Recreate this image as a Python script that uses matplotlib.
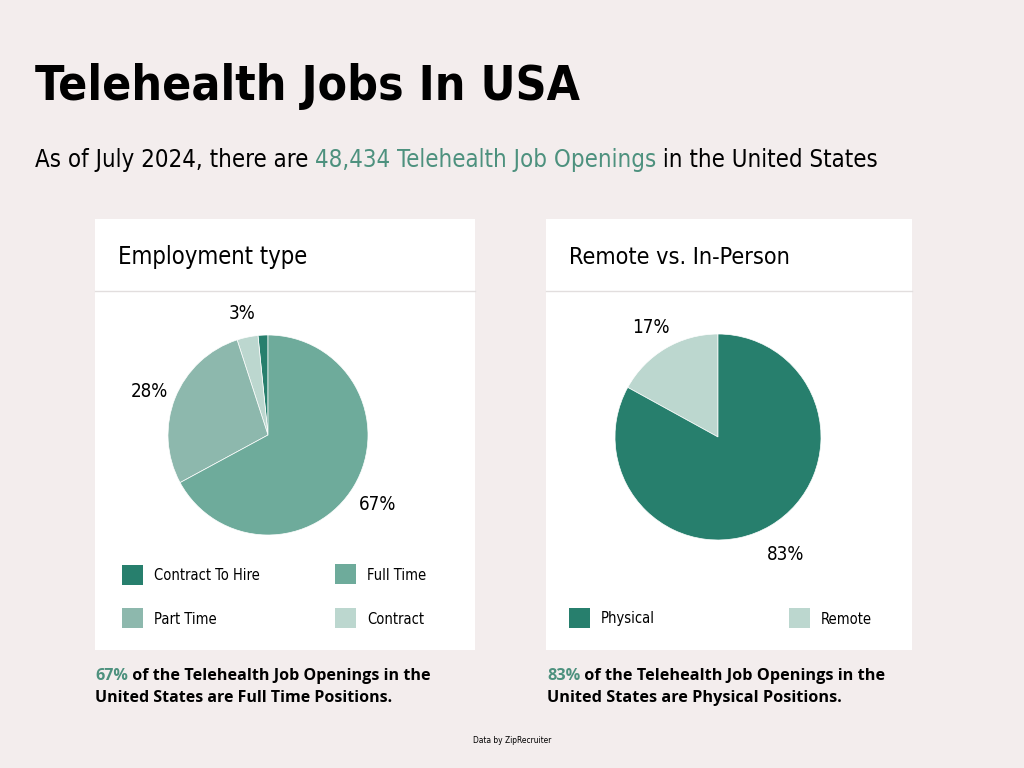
import matplotlib
matplotlib.use("Agg")
import matplotlib.pyplot as plt
from matplotlib import font_manager
from matplotlib.patches import Rectangle

# data
emp_labels = ["Contract To Hire", "Contract", "Part Time", "Full Time"]
emp_values = [1.6, 3.4, 27.9, 67.1]
loc_labels = ["Remote", "Physical"]
loc_values = [17, 83]

BG = "#f3eded"
DARK = "#277f6d"
FULL = "#6eab9b"
PART = "#8db8ad"
LIGHT = "#bcd7cf"
ACCENT = "#4d917e"
emp_colors = [DARK, LIGHT, PART, FULL]
loc_colors = [LIGHT, DARK]

names = {f.name for f in font_manager.fontManager.ttflist}
if "Liberation Sans Narrow" in names:
    COND = dict(family="Liberation Sans Narrow")
else:
    COND = dict(family="DejaVu Sans", stretch="condensed")
BODY = "Open Sans" if "Open Sans" in names else "DejaVu Sans"

fig = plt.figure(figsize=(10.24, 7.68), dpi=100, facecolor=BG)
bg = fig.add_axes([0, 0, 1, 1])
bg.set_xlim(0, 1024)
bg.set_ylim(768, 0)
bg.axis("off")
renderer = fig.canvas.get_renderer()


def fit(t, width):
    w = t.get_window_extent(renderer).width
    t.set_fontsize(t.get_fontsize() * width / w)


def runs(x, y, parts, size, width=None, **kw):
    """draw a line of text made of differently coloured pieces"""
    def place(sz):
        out, cx = [], x
        for s, c in parts:
            t = bg.text(cx, y, s, color=c, fontsize=sz, va="baseline", **kw)
            cx = t.get_window_extent(renderer).x1
            out.append(t)
        return out
    ts = place(size)
    if width:
        total = ts[-1].get_window_extent(renderer).x1 - x
        for t in ts:
            t.remove()
        ts = place(size * width / total)
    return ts


# header
t = bg.text(35, 100, "Telehealth Jobs In USA", fontsize=50, fontweight="bold",
            va="baseline", color="black", **COND)
fit(t, 545)
runs(35, 167, [("As of July 2024, there are ", "black"),
               ("48,434 Telehealth Job Openings", ACCENT),
               (" in the United States", "black")], 22, width=840, **COND)

# cards
cards = [(95, 475, "Employment type"), (546, 912, "Remote vs. In-Person")]
title_w = [190, 221]
for (x0, x1, title), tw in zip(cards, title_w):
    bg.add_patch(Rectangle((x0, 219), x1 - x0, 431, facecolor="white", edgecolor="none"))
    bg.plot([x0, x1], [290.5, 290.5], color="#e2dede", lw=1)
    t = bg.text(x0 + 23, 264, title, fontsize=22, va="baseline", color="black", **COND)
    fit(t, tw)


def pie_axes(cx, cy, r, L=1.45):
    half = r * L
    ax = fig.add_axes([(cx - half) / 1024, (768 - cy - half) / 768,
                       2 * half / 1024, 2 * half / 768])
    ax.axis("off")
    return ax, L


def fix_limits(ax, L):
    ax.set_xlim(-L, L)
    ax.set_ylim(-L, L)
    ax.set_aspect("equal")


ax1, L1 = pie_axes(268, 435, 100)
_, _, pct1 = ax1.pie(emp_values, colors=emp_colors, startangle=90, counterclock=True,
                     autopct=lambda p: f"{p:.0f}%" if p > 2.5 else "",
                     pctdistance=1.28, radius=1,
                     wedgeprops=dict(linewidth=0.5, edgecolor="white"))
fix_limits(ax1, L1)
ax2, L2 = pie_axes(718, 437, 103)
_, _, pct2 = ax2.pie(loc_values, colors=loc_colors, startangle=90, counterclock=True,
                     autopct=lambda p: f"{p:.0f}%", pctdistance=1.28, radius=1,
                     wedgeprops=dict(linewidth=0.5, edgecolor="white"))
fix_limits(ax2, L2)
for t in list(pct1) + list(pct2):
    t.set_fontsize(13.5)
    t.set(**COND)
    x, y = t.get_position()
    t.set_position((x, y - 0.04))

# legends
legend_items = [
    (122, 575, DARK, "Contract To Hire"),
    (335, 574, FULL, "Full Time"),
    (122, 618, PART, "Part Time"),
    (335, 618, LIGHT, "Contract"),
    (569, 618, DARK, "Physical"),
    (789, 618, LIGHT, "Remote"),
]
for x, y, c, lab in legend_items:
    bg.add_patch(Rectangle((x, y - 10), 21, 20, facecolor=c, edgecolor="none"))
    bg.text(x + 32, y + 1, lab, fontsize=10.5, va="center", color="black", **COND)

# notes
runs(95, 680, [("67%", ACCENT), (" of the Telehealth Job Openings in the", "black")],
     10.5, width=335, family=BODY, fontweight="bold")
runs(95, 702, [("United States are Full Time Positions.", "black")],
     10.5, width=298, family=BODY, fontweight="bold")
runs(547, 680, [("83%", ACCENT), (" of the Telehealth Job Openings in the", "black")],
     10.5, width=338, family=BODY, fontweight="bold")
runs(547, 702, [("United States are Physical Positions.", "black")],
     10.5, width=294, family=BODY, fontweight="bold")

bg.text(512, 743, "Data by ZipRecruiter", fontsize=6, ha="center", va="baseline",
        color="black", **COND)

fig.savefig("out.png", dpi=100, facecolor=BG)
